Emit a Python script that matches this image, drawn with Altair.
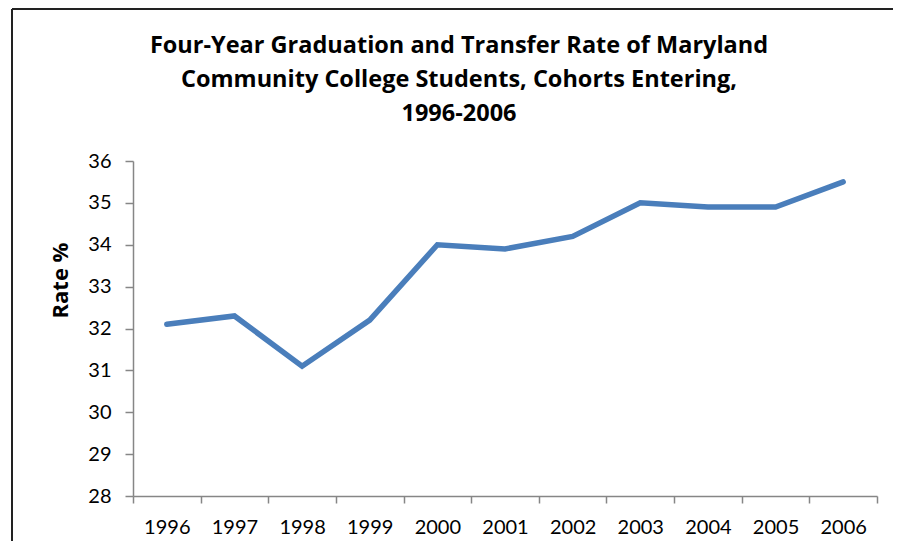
import altair as alt
import pandas as pd

years = ["1996", "1997", "1998", "1999", "2000", "2001", "2002", "2003", "2004", "2005", "2006"]
rates = [32.1, 32.3, 31.1, 32.2, 34.0, 33.9, 34.2, 35.0, 34.9, 34.9, 35.5]
y_ticks = [28, 29, 30, 31, 32, 33, 34, 35, 36]
title_lines = ["Four-Year Graduation and Transfer Rate of Maryland",
               "Community College Students, Cohorts Entering,",
               "1996-2006"]

df = pd.DataFrame({"Year": years, "Rate": rates})

FONT = "Lato"
TFONT = "Open Sans"
AXIS_GRAY = "#868686"

line = alt.Chart(df).mark_line(
    color="#4A7EBB", strokeWidth=5.5, strokeCap="round", strokeJoin="miter"
).encode(
    x=alt.X("Year:N", sort=years,
            scale=alt.Scale(paddingInner=0, paddingOuter=0),
            axis=alt.Axis(title=None, labelAngle=0, tickBand="extent",
                          labelFont=FONT, labelFontSize=20, labelColor="black",
                          labelPadding=14, tickSize=7, tickColor=AXIS_GRAY,
                          domainColor=AXIS_GRAY, domainWidth=1.5, tickWidth=1.5,
                          grid=False)),
    y=alt.Y("Rate:Q",
            scale=alt.Scale(domain=[28, 36], nice=False, zero=False),
            axis=alt.Axis(title="Rate %", values=y_ticks, grid=False,
                          labelFont=FONT, labelFontSize=20, labelColor="black",
                          labelPadding=14, tickSize=8, tickColor=AXIS_GRAY,
                          domainColor=AXIS_GRAY, domainWidth=1.5, tickWidth=1.5,
                          titleFont=TFONT, titleFontSize=22, titleFontWeight="bold",
                          titleColor="black", titleAngle=-90, titleX=-73, titleY=119,
                          titleAlign="center", titleBaseline="middle")),
)

frame_v = alt.Chart(df).mark_rule(color="#222222", strokeWidth=2).encode(
    x=alt.value(-121), y=alt.value(-152), y2=alt.value(400)
)
frame_h = alt.Chart(df).mark_rule(color="#222222", strokeWidth=2).encode(
    x=alt.value(-121), x2=alt.value(760), y=alt.value(-152)
)

title_y = [-108, -74, -40]
title_layers = []
for txt, ty in zip(title_lines, title_y):
    title_layers.append(
        alt.Chart(pd.DataFrame({"t": [txt]})).mark_text(
            font=TFONT, fontSize=23.5, fontWeight="bold", color="black",
            align="center", baseline="alphabetic"
        ).encode(text="t:N", x=alt.value(326), y=alt.value(ty))
    )

chart = alt.layer(line, frame_v, frame_h, *title_layers).properties(
    width=744,
    height=335,
    autosize=alt.AutoSizeParams(type="none"),
    padding={"left": 125, "top": 153, "right": 16, "bottom": 45},
    background="white",
).configure_view(stroke=None)

chart.save("out.html", embed_options={"renderer": "svg", "actions": False})
